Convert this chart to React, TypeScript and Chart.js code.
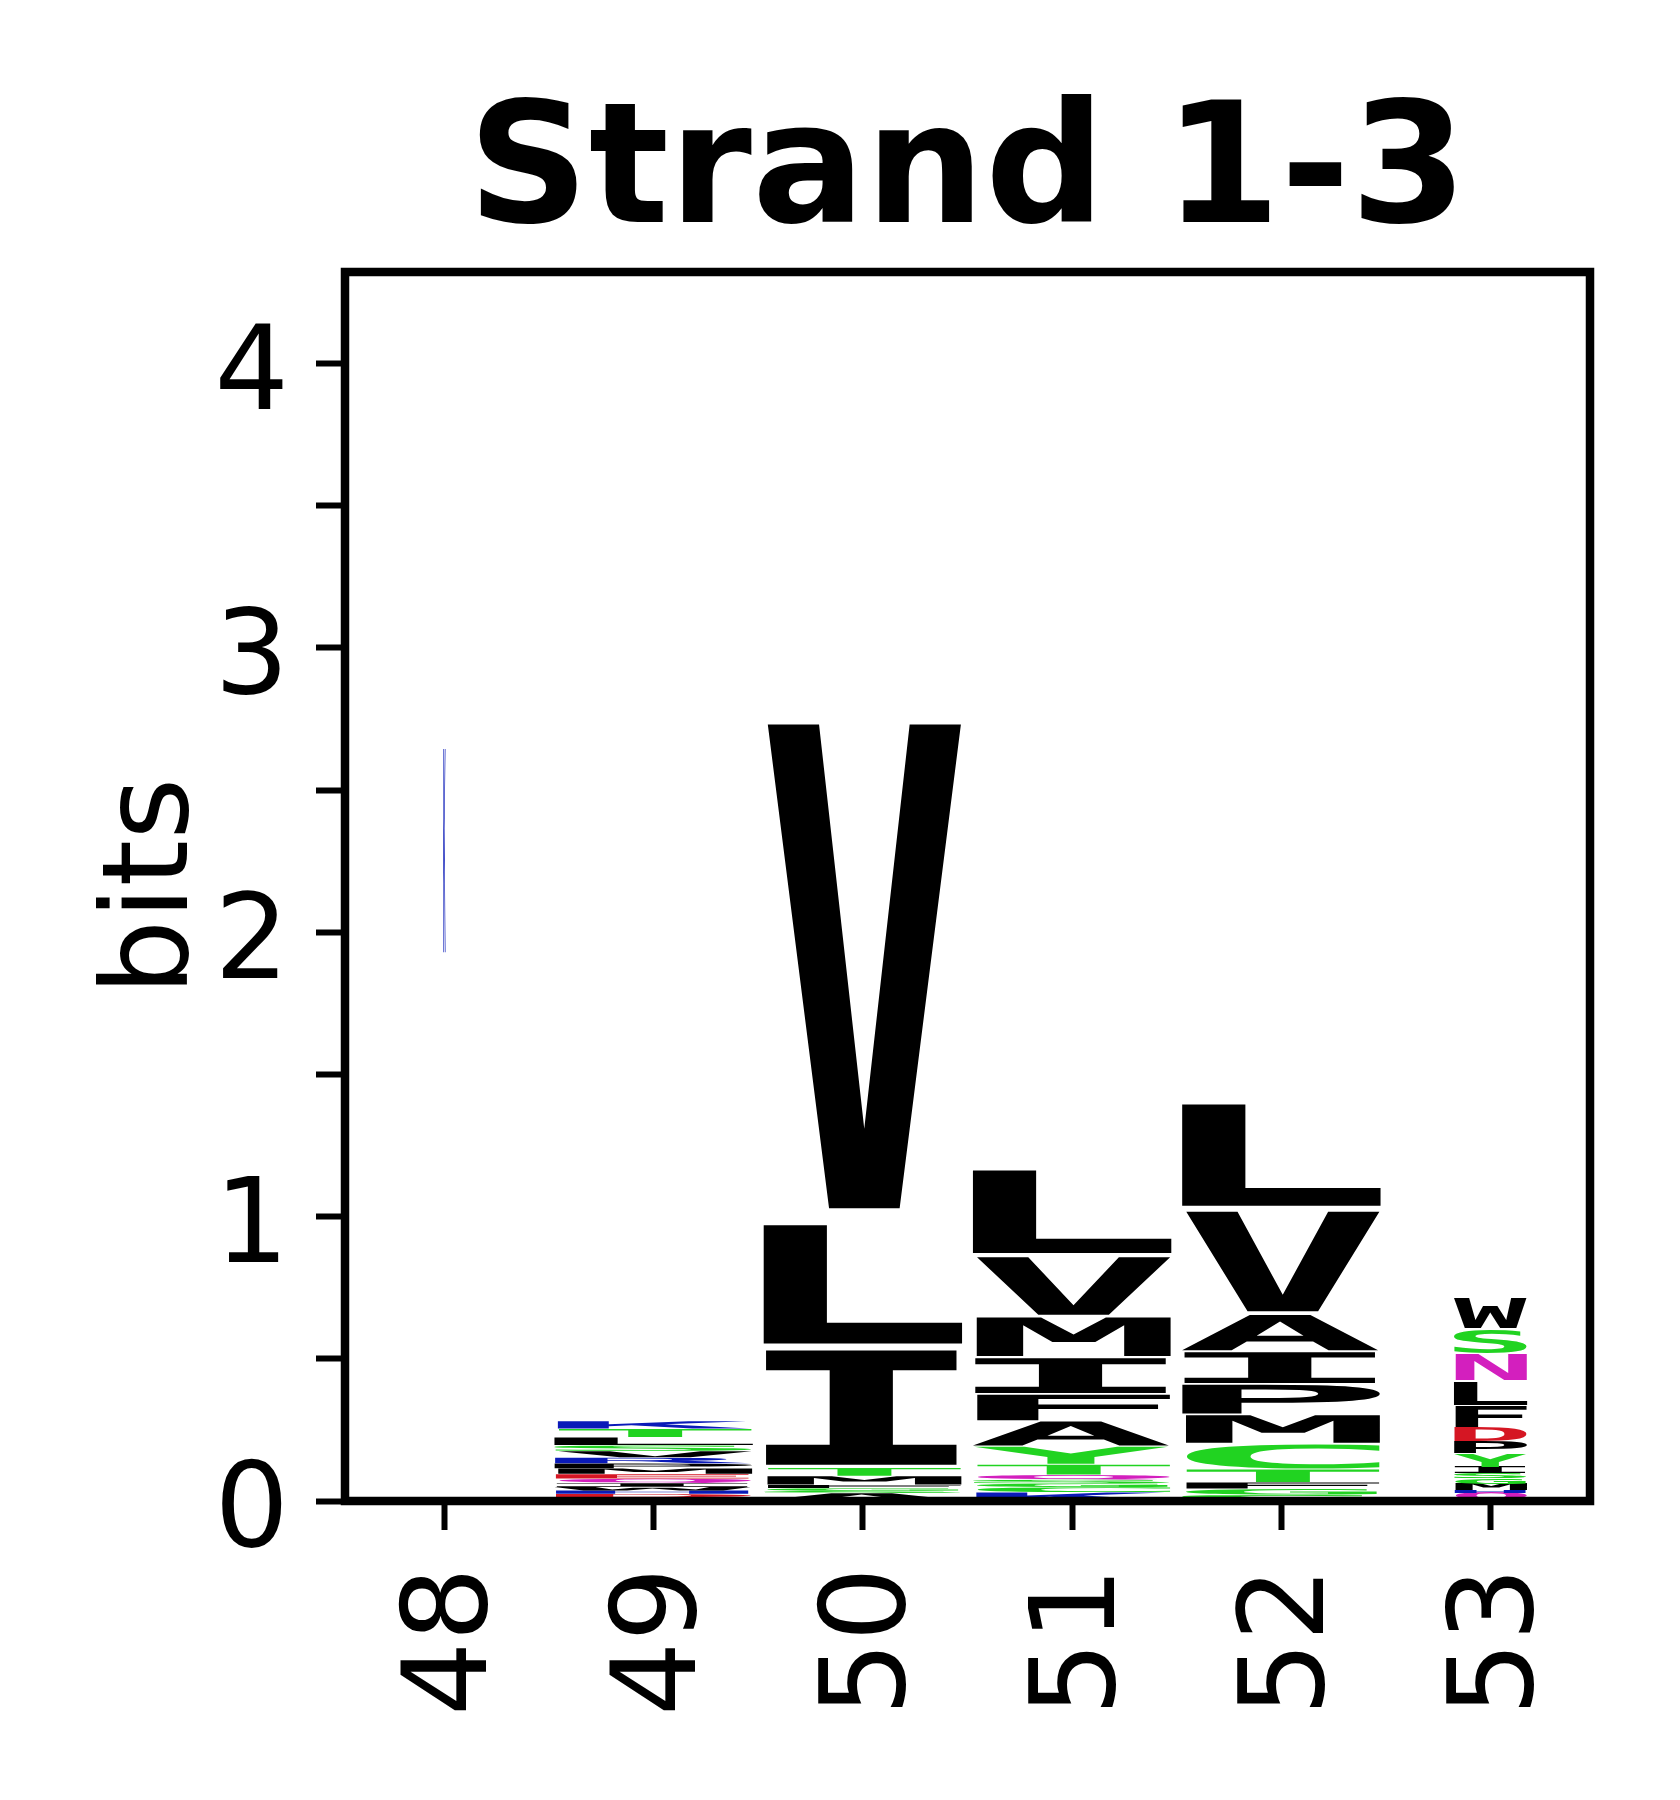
import React, { useEffect, useRef } from 'react';
import { Chart, registerables } from 'chart.js';

Chart.register(...registerables);

// ---------------- data ----------------
const POSITIONS = [48, 49, 50, 51, 52, 53];
const TITLE = 'Strand 1-3';
const Y_LABEL = 'bits';

// letters listed bottom -> top, heights in bits
const LETTERS_48 = ['K'];
const BITS_48 = [0.758];
const LETTERS_49 = ['N', 'D', 'H', 'W', 'I', 'Q', 'E', 'M', 'P', 'R', 'V', 'S', 'L', 'T', 'K'];
const BITS_49 = [0.013, 0.012, 0.012, 0.013, 0.013, 0.016, 0.016, 0.02, 0.017, 0.021, 0.023, 0.02, 0.028, 0.03, 0.027];
const LETTERS_50 = ['A', 'S', 'G', 'F', 'M', 'T', 'I', 'L', 'V'];
const BITS_50 = [0.028, 0.008, 0.009, 0.012, 0.031, 0.029, 0.426, 0.441, 1.804];
const LETTERS_51 = ['K', 'C', 'G', 'S', 'Q', 'T', 'Y', 'A', 'F', 'I', 'M', 'V', 'L'];
const BITS_51 = [0.031, 0.018, 0.013, 0.013, 0.017, 0.037, 0.064, 0.089, 0.095, 0.129, 0.144, 0.214, 0.308];
const LETTERS_52 = ['S', 'G', 'F', 'T', 'C', 'M', 'P', 'I', 'A', 'V', 'L'];
const BITS_52 = [0.022, 0.021, 0.023, 0.046, 0.09, 0.103, 0.107, 0.115, 0.131, 0.371, 0.377];
const LETTERS_53 = ['Q', 'H', 'M', 'G', 'S', 'I', 'Y', 'P', 'D', 'F', 'L', 'N', 'S', 'W'];
const BITS_53 = [0.028, 0.011, 0.021, 0.019, 0.019, 0.021, 0.047, 0.043, 0.051, 0.076, 0.086, 0.094, 0.091, 0.109];
const COLUMN_FLOOR = [1.911, 0, 0, 0, 0, 0];

const COLUMN_LETTERS = [LETTERS_48, LETTERS_49, LETTERS_50, LETTERS_51, LETTERS_52, LETTERS_53];
const COLUMN_BITS = [BITS_48, BITS_49, BITS_50, BITS_51, BITS_52, BITS_53];

const Y_MAX = Math.log2(20);
const X_MIN = 47.525;
const X_MAX = 53.475;

// ---------------- styles ----------------
const GREEN = '#21d321';
const MAGENTA = '#d31fbe';
const BLUE = '#0a1ab8';
const RED = '#d51623';
const BLACK = '#000000';
const LETTER_COLORS: Record<string, string> = {
  G: GREEN, S: GREEN, T: GREEN, Y: GREEN, C: GREEN,
  N: MAGENTA, Q: MAGENTA,
  K: BLUE, R: BLUE, H: BLUE,
  D: RED, E: RED,
};
const GLYPH_WIDTH = [0.011, 0.95, 0.95, 0.95, 0.95, 0.35];
const VPAD = 0.05;
const FONT_FAMILY = '"DejaVu Sans", "Liberation Sans", sans-serif';
const GLYPH_FONT = '"DejaVu Sans Mono", "DejaVu Sans", monospace';

function drawGlyph(ctx: CanvasRenderingContext2D, ch: string, x0: number, y0: number, w: number, h: number, color: string) {
  if (w <= 0 || h <= 0) return;
  ctx.save();
  ctx.font = `bold 400px ${GLYPH_FONT}`;
  ctx.textAlign = 'left';
  ctx.textBaseline = 'alphabetic';
  const m = ctx.measureText(ch);
  const gw = m.actualBoundingBoxLeft + m.actualBoundingBoxRight;
  const gh = m.actualBoundingBoxAscent + m.actualBoundingBoxDescent;
  ctx.translate(x0, y0);
  ctx.scale(w / gw, h / gh);
  ctx.fillStyle = color;
  ctx.fillText(ch, m.actualBoundingBoxLeft, m.actualBoundingBoxAscent);
  ctx.restore();
}

const glyphPlugin = {
  id: 'logoGlyphs',
  afterDatasetsDraw(chart: any) {
    const ctx = chart.ctx as CanvasRenderingContext2D;
    chart.data.datasets.forEach((ds: any, d: number) => {
      const meta = chart.getDatasetMeta(d);
      meta.data.forEach((el: any, i: number) => {
        const { x, y, base, width } = el.getProps(['x', 'y', 'base', 'width'], true);
        const ch = ds.letters[i];
        const ci = ds.cols[i];
        const w = width * GLYPH_WIDTH[ci];
        const top = Math.min(y, base);
        const bot = Math.max(y, base);
        const h = bot - top;
        const pad = (h * VPAD) / 2;
        drawGlyph(ctx, ch, x - w / 2, top + pad, w, h - 2 * pad, LETTER_COLORS[ch] || BLACK);
      });
    });
  },
};

const framePlugin = {
  id: 'axesFrame',
  afterDraw(chart: any) {
    const { ctx, chartArea } = chart;
    ctx.save();
    ctx.strokeStyle = BLACK;
    ctx.lineWidth = 8.5;
    ctx.lineJoin = 'miter';
    ctx.strokeRect(chartArea.left, chartArea.top, chartArea.right - chartArea.left, chartArea.bottom - chartArea.top);
    ctx.restore();
  },
};

function buildDatasets() {
  const maxRank = Math.max(...COLUMN_LETTERS.map((l) => l.length));
  const datasets: any[] = [];
  for (let r = 0; r < maxRank; r++) {
    const data: any[] = [];
    const letters: string[] = [];
    const cols: number[] = [];
    COLUMN_LETTERS.forEach((lets, ci) => {
      if (r >= lets.length) return;
      let lo = COLUMN_FLOOR[ci];
      for (let k = 0; k < r; k++) lo += COLUMN_BITS[ci][k];
      const hi = lo + COLUMN_BITS[ci][r];
      data.push({ x: POSITIONS[ci], y: [lo, hi] });
      letters.push(lets[r]);
      cols.push(ci);
    });
    datasets.push({
      data,
      letters,
      cols,
      backgroundColor: 'rgba(0,0,0,0)',
      borderWidth: 0,
      grouped: false,
      barPercentage: 1,
      categoryPercentage: 1,
    });
  }
  return datasets;
}

export default function App() {
  const ref = useRef<HTMLCanvasElement>(null);
  useEffect(() => {
    document.body.style.margin = '0';
    const canvas = ref.current!;
    const chart = new Chart(canvas, {
      type: 'bar',
      data: { datasets: buildDatasets() },
      plugins: [glyphPlugin, framePlugin],
      options: {
        animation: false,
        responsive: false,
        events: [],
        layout: { padding: { left: 0, right: 90, top: 0, bottom: 0 } },
        plugins: {
          legend: { display: false },
          tooltip: { enabled: false },
          title: {
            display: true,
            text: TITLE,
            fullSize: false,
            color: BLACK,
            font: { family: FONT_FAMILY, size: 168, weight: 'bold', lineHeight: 1.1 },
            padding: { top: 85.9, bottom: 1.3 },
          },
        },
        scales: {
          x: {
            type: 'linear',
            min: X_MIN,
            max: X_MAX,
            offset: false,
            grid: { display: true, offset: false, drawOnChartArea: false, drawTicks: true, tickLength: 29, tickWidth: 6, tickColor: BLACK },
            border: { display: false },
            ticks: {
              stepSize: 1,
              includeBounds: false,
              autoSkip: false,
              minRotation: 90,
              maxRotation: 90,
              padding: 37,
              color: BLACK,
              font: { family: FONT_FAMILY, size: 117, lineHeight: 11 / 117 },
              callback: (v: any) => ['', String(v)],
            },
            afterFit: (s: any) => { s.height = 299; },
          },
          y: {
            type: 'linear',
            min: 0,
            max: Y_MAX,
            grid: { display: true, drawOnChartArea: false, drawTicks: true, tickLength: 29, tickWidth: 6, tickColor: BLACK },
            border: { display: false },
            ticks: {
              stepSize: 0.5,
              includeBounds: false,
              padding: 27,
              color: BLACK,
              font: { family: FONT_FAMILY, size: 117, lineHeight: 30 / 117 },
              callback: (v: any) => (Number.isInteger(v) ? ['', String(v)] : ''),
            },
            title: {
              display: true,
              text: Y_LABEL,
              color: BLACK,
              font: { family: FONT_FAMILY, size: 119, lineHeight: 1.2 },
              padding: { top: 84.3, bottom: 0 },
            },
            afterFit: (s: any) => { s.width = 345; },
          },
        },
      } as any,
    });
    return () => chart.destroy();
  }, []);
  return (
    <div style={{ width: 1680, height: 1800, background: '#ffffff' }}>
      <canvas ref={ref} width={1680} height={1800} style={{ display: 'block', width: 1680, height: 1800 }} />
    </div>
  );
}
